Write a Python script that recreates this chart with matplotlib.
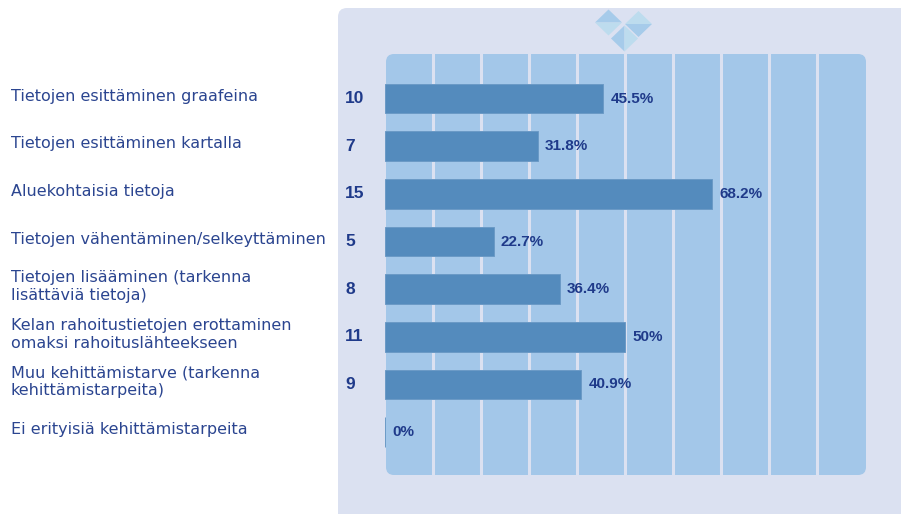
import matplotlib
matplotlib.use('Agg')
import matplotlib.pyplot as plt
import matplotlib.patches as patches

categories = [
    'Tietojen esittäminen graafeina',
    'Tietojen esittäminen kartalla',
    'Aluekohtaisia tietoja',
    'Tietojen vähentäminen/selkeyttäminen',
    'Tietojen lisääminen (tarkenna\nlisättäviä tietoja)',
    'Kelan rahoitustietojen erottaminen\nomaksi rahoituslähteekseen',
    'Muu kehittämistarve (tarkenna\nkehittämistarpeita)',
    'Ei erityisiä kehittämistarpeita',
]
counts = [10, 7, 15, 5, 8, 11, 9, None]
percents = [45.5, 31.8, 68.2, 22.7, 36.4, 50, 40.9, 0]
percent_labels = ['45.5%', '31.8%', '68.2%', '22.7%', '36.4%', '50%', '40.9%', '0%']
x_grid = [10, 20, 30, 40, 50, 60, 70, 80, 90]

PANEL = '#dbe1f1'
PLOT = '#a3c7e9'
BAR = '#548bbd'
TEXT = '#1f3a8a'
LABEL = '#2b4590'
W, H = 901, 514

plt.rcParams['font.family'] = ['Liberation Sans', 'DejaVu Sans']
fig = plt.figure(figsize=(W / 100, H / 100), dpi=100, facecolor='white')

# tausta pikseleinä
bg = fig.add_axes([0, 0, 1, 1])
bg.set_xlim(0, W)
bg.set_ylim(H, 0)
bg.axis('off')
bg.add_patch(patches.FancyBboxPatch((338, 8), 620, 620, boxstyle='round,pad=0,rounding_size=9',
                                    facecolor=PANEL, edgecolor='none'))
bg.add_patch(patches.FancyBboxPatch((386, 54), 480, 421, boxstyle='round,pad=0,rounding_size=8',
                                    facecolor=PLOT, edgecolor='none'))

# koriste
DARK = '#a6cbea'
LIGHT = '#bddcee'
for cx, cy, top, low in [(608.5, 22.5, DARK, LIGHT), (638.5, 24, LIGHT, DARK)]:
    bg.add_patch(patches.Polygon([(cx - 13.5, cy), (cx, cy - 13), (cx + 13.5, cy)], facecolor=top, edgecolor='none'))
    bg.add_patch(patches.Polygon([(cx - 13.5, cy), (cx, cy + 13), (cx + 13.5, cy)], facecolor=low, edgecolor='none'))
cx, cy = 624.5, 38.5
bg.add_patch(patches.Polygon([(cx, cy - 13), (cx - 13.5, cy), (cx, cy + 13)], facecolor=DARK, edgecolor='none'))
bg.add_patch(patches.Polygon([(cx, cy - 13), (cx + 13.5, cy), (cx, cy + 13)], facecolor=LIGHT, edgecolor='none'))

# pylväät
ax = fig.add_axes([385 / W, 1 - 475 / H, 480 / W, 421 / H])
ax.patch.set_alpha(0)
ax.set_xlim(0, 100)
ax.set_ylim(7.90, -0.935)
for s in ax.spines.values():
    s.set_visible(False)
ax.set_xticks(x_grid)
ax.set_yticks([])
ax.tick_params(axis='x', length=0, labelbottom=False)
ax.grid(True, axis='x', color=PANEL, lw=2.2)
ax.set_axisbelow(True)

y_pos = list(range(len(categories)))
ax.barh(y_pos, percents, height=0.62, color=BAR, edgecolor='#6b9ac6', lw=0.7, clip_on=False)

for y, name, c, p, lab in zip(y_pos, categories, counts, percents, percent_labels):
    ax.annotate(name, (0, y), xycoords=('axes fraction', 'data'), xytext=(11 - 385, 2.5), textcoords='offset pixels',
                ha='left', va='center', fontsize=11.55, color=LABEL, linespacing=1.25,
                family=['DejaVu Sans'])
    if c is not None:
        ax.annotate(str(c), (0, y), xycoords=('axes fraction', 'data'), xytext=(345 - 385, 0), textcoords='offset pixels',
                    ha='left', va='center', fontsize=12.5, fontweight='bold', color=TEXT)
    ax.annotate(lab, (p, y), xycoords='data', xytext=(7, 0), textcoords='offset pixels',
                ha='left', va='center', fontsize=11, fontweight='bold', color=TEXT)

fig.savefig('out.png', dpi=100)
